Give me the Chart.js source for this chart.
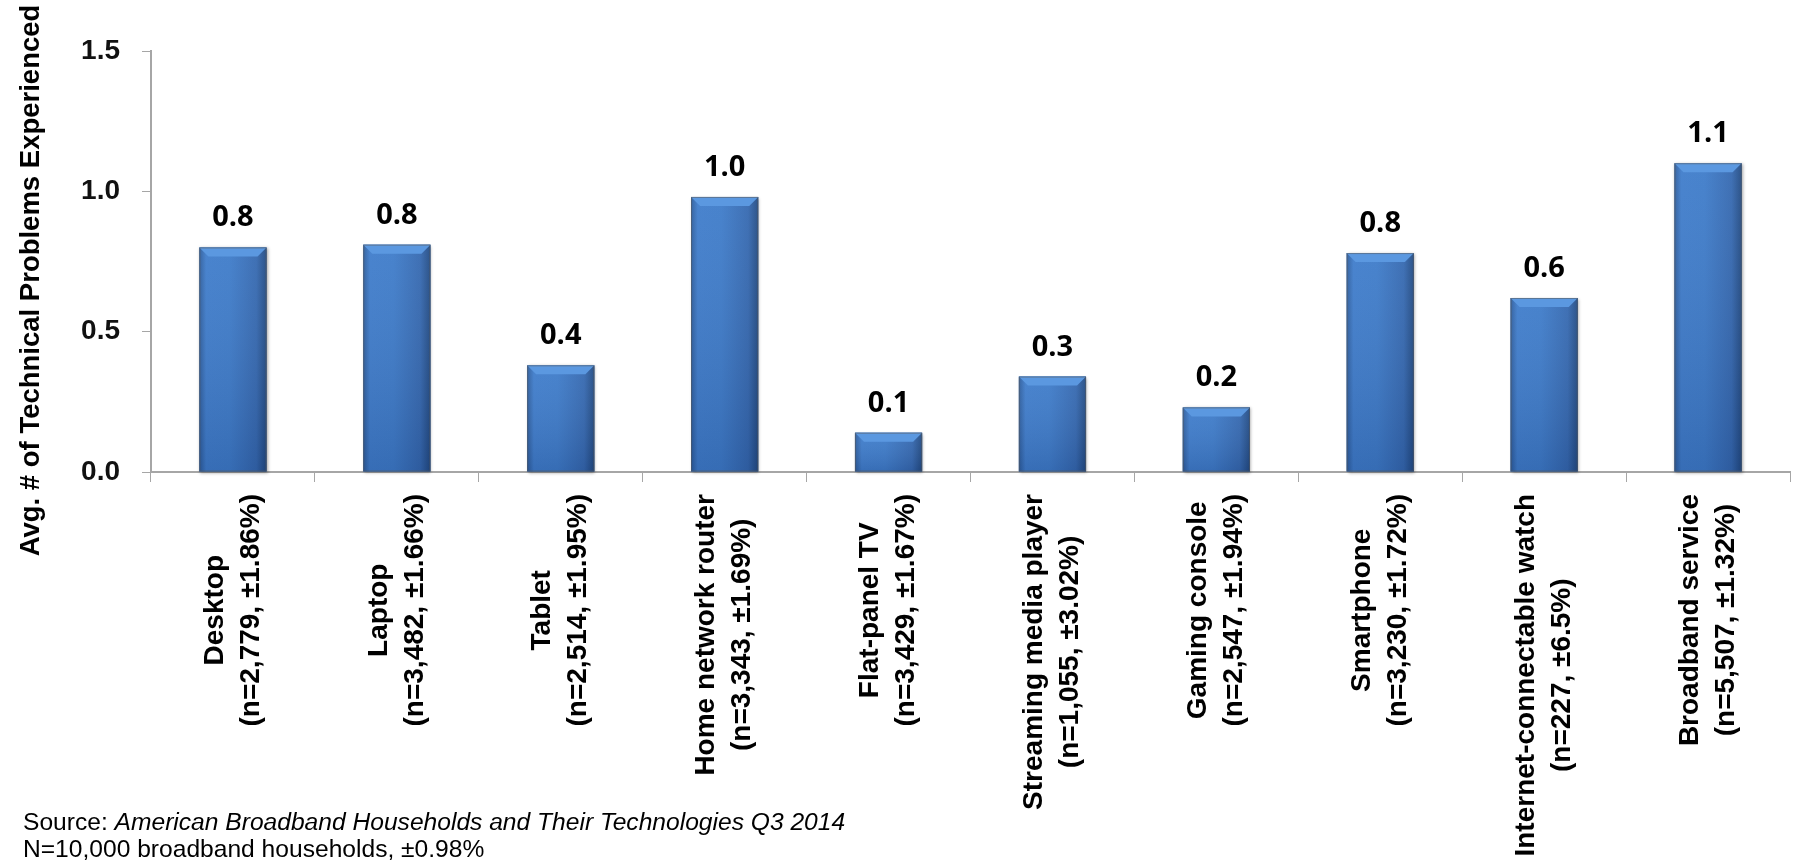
<!DOCTYPE html>
<html>
<head>
<meta charset="utf-8">
<script src="https://cdn.jsdelivr.net/npm/chart.js@4.4.1/dist/chart.umd.min.js"></script>
<style>
  html, body { margin: 0; padding: 0; background: #fff; }
</style>
</head>
<body>
<canvas id="myChart" width="1796" height="861"></canvas>
<script>
var devices = ['Desktop', 'Laptop', 'Tablet', 'Home network router', 'Flat-panel TV',
    'Streaming media player', 'Gaming console', 'Smartphone', 'Internet-connectable watch', 'Broadband service'];
var sampleNotes = ['(n=2,779, ±1.86%)', '(n=3,482, ±1.66%)', '(n=2,514, ±1.95%)', '(n=3,343, ±1.69%)',
    '(n=3,429, ±1.67%)', '(n=1,055, ±3.02%)', '(n=2,547, ±1.94%)', '(n=3,230, ±1.72%)',
    '(n=227, ±6.5%)', '(n=5,507, ±1.32%)'];
var avgProblems = [0.80, 0.81, 0.38, 0.98, 0.14, 0.34, 0.23, 0.78, 0.62, 1.10];
var yTicks = [0, 0.5, 1.0, 1.5];
var yTitle = 'Avg. # of Technical Problems Experienced';
var sourceLabel = 'Source: ';
var sourceTitle = 'American Broadband Households and Their Technologies Q3 2014';
var sampleLine = 'N=10,000 broadband households, ±0.98%';

var axisGray = '#a6a6a6';

// bevelled look on top of the plain bars
var bevel = {
    id: 'bevel',
    afterDatasetsDraw: function(chart) {
        var ctx = chart.ctx;
        chart.getDatasetMeta(0).data.forEach(function(bar) {
            var w = bar.width, l = bar.x - w / 2, r = bar.x + w / 2, t = bar.y, b = bar.base;
            var g = ctx.createLinearGradient(l, 0, r, 0);
            g.addColorStop(0, '#2c5c9c');
            g.addColorStop(0.1, '#3e7ccb');
            g.addColorStop(0.45, '#3d7bc9');
            g.addColorStop(0.85, '#3468b0');
            g.addColorStop(1, '#214a82');
            ctx.save();
            ctx.shadowColor = 'rgba(0,0,0,0.35)';
            ctx.shadowBlur = 3;
            ctx.shadowOffsetX = 1;
            ctx.shadowOffsetY = 1;
            ctx.fillStyle = g;
            ctx.fillRect(l, t, w, b - t);
            ctx.restore();
            var v = ctx.createLinearGradient(0, t, 0, b);
            v.addColorStop(0, 'rgba(255,255,255,0.06)');
            v.addColorStop(1, 'rgba(0,0,30,0.12)');
            ctx.fillStyle = v;
            ctx.fillRect(l, t, w, b - t);
            var d = Math.min(9, (b - t) / 3);
            ctx.beginPath();
            ctx.moveTo(l, t);
            ctx.lineTo(r, t);
            ctx.lineTo(r - d, t + d);
            ctx.lineTo(l + d, t + d);
            ctx.closePath();
            ctx.fillStyle = '#5b98e0';
            ctx.fill();
            ctx.strokeStyle = 'rgba(90,90,90,0.55)';
            ctx.lineWidth = 1;
            ctx.strokeRect(l + 0.5, t + 0.5, w - 1, b - t - 1);
        });
    }
};

var valueLabels = {
    id: 'valueLabels',
    afterDatasetsDraw: function(chart) {
        var ctx = chart.ctx;
        ctx.save();
        ctx.font = 'bold 29px "Open Sans", "Liberation Sans", sans-serif';
        ctx.fillStyle = '#000';
        ctx.textAlign = 'center';
        ctx.textBaseline = 'alphabetic';
        chart.getDatasetMeta(0).data.forEach(function(bar, i) {
            ctx.fillText(avgProblems[i].toFixed(1), bar.x, bar.y - 21);
        });
        ctx.restore();
    }
};

// category labels: rotated, lines centred on each other, top end near the axis
var categoryLabels = {
    id: 'categoryLabels',
    afterDraw: function(chart) {
        var ctx = chart.ctx, xs = chart.scales.x;
        var lh = 36, gap = 22;
        ctx.save();
        ctx.font = 'bold 28px "Liberation Sans", Arial, sans-serif';
        ctx.fillStyle = '#000';
        ctx.textAlign = 'center';
        ctx.textBaseline = 'middle';
        devices.forEach(function(name, i) {
            var lines = [name, sampleNotes[i]];
            var maxW = Math.max.apply(null, lines.map(function(s) { return ctx.measureText(s).width; }));
            ctx.save();
            ctx.translate(xs.getPixelForTick(i), xs.top);
            ctx.rotate(-Math.PI / 2);
            lines.forEach(function(s, k) {
                ctx.fillText(s, -(gap + maxW / 2), (k - (lines.length - 1) / 2) * lh);
            });
            ctx.restore();
        });
        ctx.restore();
    }
};

// y title sits a bit lower than the centre of the axis in the original
var axisTitle = {
    id: 'axisTitle',
    afterDraw: function(chart) {
        var ctx = chart.ctx, ys = chart.scales.y;
        ctx.save();
        ctx.font = 'bold 27.5px "Liberation Sans", Arial, sans-serif';
        ctx.fillStyle = '#000';
        ctx.textAlign = 'center';
        ctx.textBaseline = 'middle';
        ctx.translate(31, (ys.top + ys.bottom) / 2 + 19);
        ctx.rotate(-Math.PI / 2);
        ctx.fillText(yTitle, 0, 0);
        ctx.restore();
    }
};

var sourceNote = {
    id: 'sourceNote',
    afterDraw: function(chart) {
        var ctx = chart.ctx;
        ctx.save();
        ctx.fillStyle = '#000';
        ctx.textBaseline = 'alphabetic';
        ctx.font = '24.6px "Liberation Sans", Arial, sans-serif';
        ctx.fillText(sourceLabel, 23, 830);
        var w = ctx.measureText(sourceLabel).width;
        ctx.font = 'italic 24.6px "Liberation Sans", Arial, sans-serif';
        ctx.fillText(sourceTitle, 23 + w, 830);
        ctx.font = '24.6px "Liberation Sans", Arial, sans-serif';
        ctx.fillText(sampleLine, 23, 857);
        ctx.restore();
    }
};

var ctx = document.getElementById('myChart').getContext('2d');

var chart = new Chart(ctx, {
    type: 'bar',
    data: {
        labels: devices.map(function(d, i) { return [d, sampleNotes[i]]; }),
        datasets: [{
            data: avgProblems,
            backgroundColor: '#3b78c6',
            borderWidth: 0,
            barPercentage: 0.41,
            categoryPercentage: 1
        }]
    },
    options: {
        responsive: false,
        animation: false,
        layout: { padding: { top: 51, right: 6, left: 0, bottom: 0 } },
        plugins: {
            legend: { display: false },
            tooltip: { enabled: false }
        },
        scales: {
            x: {
                grid: { display: true, drawOnChartArea: false, offset: true, tickLength: 10, color: axisGray },
                border: { color: axisGray, width: 2 },
                ticks: { display: false },
                afterFit: function(s) { s.height = 389; }
            },
            y: {
                min: 0,
                max: 1.5,
                afterBuildTicks: function(s) { s.ticks = yTicks.map(function(v) { return { value: v }; }); },
                grid: { display: true, drawOnChartArea: false, tickLength: 9, color: axisGray },
                border: { color: axisGray, width: 2 },
                ticks: {
                    padding: 22,
                    color: '#111',
                    font: { family: '"Liberation Sans", Arial, sans-serif', size: 28, weight: 'bold' },
                    callback: function(v) { return Number(v).toFixed(1); }
                },
                title: { display: false },
                afterFit: function(s) { s.width = 151; }
            }
        }
    },
    plugins: [bevel, valueLabels, categoryLabels, axisTitle, sourceNote]
});
</script>
</body>
</html>
